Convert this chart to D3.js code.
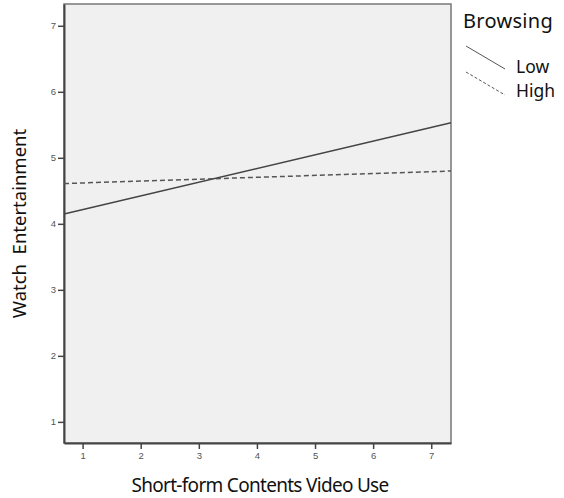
<!DOCTYPE html>
<html>
<head>
<meta charset="utf-8">
<script src="https://cdn.jsdelivr.net/npm/d3@7"></script>
<style>
  body { margin: 0; background: #fff; }
  svg { display: block; }
</style>
</head>
<body>
<div id="chart"></div>
<script>
// data
const xEnds = [0.68, 7.34];          // fit lines run across the whole plot
const lowValues = [4.15, 5.53];      // Browsing = Low
const highValues = [4.61, 4.80];     // Browsing = High
const xTicks = [1, 2, 3, 4, 5, 6, 7];
const yTicks = [1, 2, 3, 4, 5, 6, 7];
const seriesNames = ["Low", "High"];

const width = 564, height = 498;
const margin = {top: 4, right: 113, bottom: 55, left: 64};
const plotW = width - margin.left - margin.right,
      plotH = height - margin.top - margin.bottom;

const svg = d3.select("#chart")
  .append("svg")
  .attr("width", width)
  .attr("height", height);

const g = svg.append("g")
  .attr("transform", `translate(${margin.left}, ${margin.top})`);

const x = d3.scaleLinear().domain([0.68, 7.34]).range([0, plotW]);
const y = d3.scaleLinear().domain([0.68, 7.33]).range([plotH, 0]);

// plot background + frame
g.append("rect")
  .attr("width", plotW)
  .attr("height", plotH)
  .attr("fill", "#f0f0f0")
  .attr("stroke", "#777")
  .attr("stroke-width", 1.5);

// axes
const xAxis = g.append("g")
  .attr("transform", `translate(0, ${plotH})`)
  .call(d3.axisBottom(x).tickValues(xTicks).tickFormat(d3.format("d"))
    .tickSize(6).tickPadding(3).tickSizeOuter(0));
const yAxis = g.append("g")
  .call(d3.axisLeft(y).tickValues(yTicks).tickFormat(d3.format("d"))
    .tickSize(6).tickPadding(2).tickSizeOuter(0));

[xAxis, yAxis].forEach(a => {
  a.select(".domain").attr("stroke", "#444").attr("stroke-width", 2);
  a.selectAll(".tick line").attr("stroke", "#444").attr("stroke-width", 1.5);
  a.selectAll(".tick text")
    .attr("fill", "#555")
    .style("font-family", "Arial, 'Liberation Sans', sans-serif")
    .style("font-size", "9.5px");
});

// fit lines
const line = d3.line()
  .x((d, i) => x(xEnds[i]))
  .y(d => y(d));

g.append("path")
  .datum(lowValues)
  .attr("d", line)
  .attr("fill", "none")
  .attr("stroke", "#444")
  .attr("stroke-width", 1.5);

g.append("path")
  .datum(highValues)
  .attr("d", line)
  .attr("fill", "none")
  .attr("stroke", "#555")
  .attr("stroke-width", 1.5)
  .attr("stroke-dasharray", "5,3");

// axis titles
svg.append("text")
  .attr("transform", `translate(26, ${margin.top + plotH / 2}) rotate(-90)`)
  .attr("text-anchor", "middle")
  .style("font-family", "'Noto Sans', sans-serif")
  .style("font-size", "18.5px")
  .style("white-space", "pre")
  .attr("fill", "#111")
  .text("Watch  Entertainment");

svg.append("text")
  .attr("x", 260)
  .attr("y", 492)
  .attr("text-anchor", "middle")
  .style("font-family", "'Noto Sans', sans-serif")
  .style("font-size", "19px")
  .style("letter-spacing", "-0.7px")
  .attr("fill", "#111")
  .text("Short-form Contents Video Use");

// legend
const legend = svg.append("g");
legend.append("text")
  .attr("x", 463)
  .attr("y", 28)
  .style("font-family", "'Noto Sans', sans-serif")
  .style("font-size", "20px")
  .style("letter-spacing", "0.3px")
  .attr("fill", "#111")
  .text("Browsing");

const legendRows = [
  {name: seriesNames[0], dash: null, y0: 46, ty: 73},
  {name: seriesNames[1], dash: "3,2", y0: 72, ty: 97}
];
legendRows.forEach(r => {
  legend.append("line")
    .attr("x1", 466).attr("y1", r.y0)
    .attr("x2", 505).attr("y2", r.y0 + 23)
    .attr("stroke", "#555")
    .attr("stroke-width", 1)
    .attr("stroke-dasharray", r.dash);
  legend.append("text")
    .attr("x", 516)
    .attr("y", r.ty)
    .style("font-family", "'Noto Sans', sans-serif")
    .style("font-size", "17.5px")
    .attr("fill", "#111")
    .text(r.name);
});
</script>
</body>
</html>
